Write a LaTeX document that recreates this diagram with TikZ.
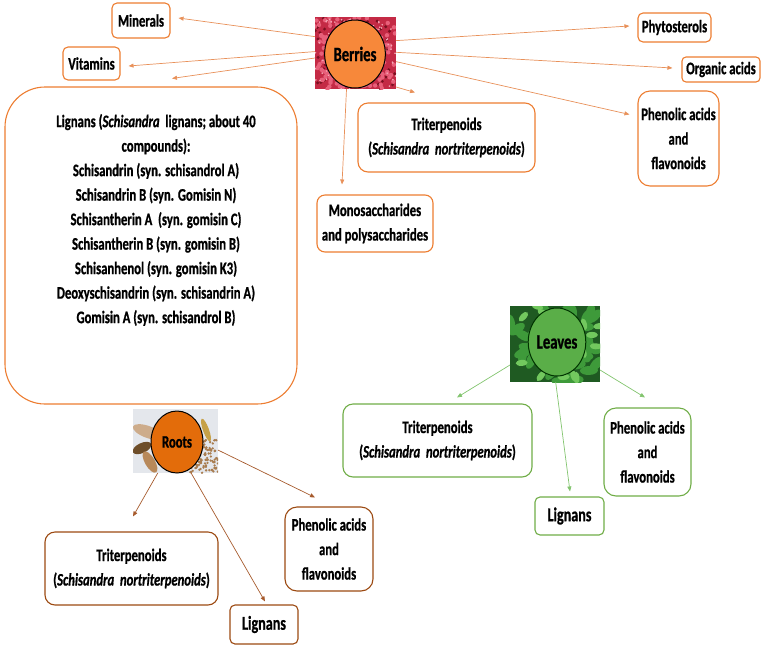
\documentclass[tikz,border=0pt]{standalone}
\usepackage{fontspec}
\setmainfont{Carlito}[FakeStretch=0.72, BoldFeatures={FakeBold=0.8}, BoldItalicFeatures={FakeBold=0.8}]
\usetikzlibrary{arrows.meta,calc,shapes.geometric}
\definecolor{bor}{HTML}{ED7D31}
\definecolor{borarr}{HTML}{E8915A}
\definecolor{rbr}{HTML}{9C4A12}
\definecolor{rarr}{HTML}{A65A2C}
\definecolor{lgr}{HTML}{70AD47}
\definecolor{larr}{HTML}{82C46E}
\definecolor{berfill}{HTML}{F7883A}
\definecolor{rootfill}{HTML}{E36C0A}
\definecolor{leaffill}{HTML}{5AAE48}
\definecolor{berbase}{HTML}{C42A45}
\definecolor{berlight}{HTML}{E8607A}
\definecolor{berhi}{HTML}{F5A8B6}
\definecolor{berdark}{HTML}{7A1020}
\definecolor{leafbase}{HTML}{1F5A22}
\definecolor{leafmid}{HTML}{3E9A3A}
\definecolor{leaflight}{HTML}{72C85E}
\definecolor{rootbase}{HTML}{E4E7EC}
\definecolor{roottan}{HTML}{B8895A}
\definecolor{rootdark}{HTML}{6E4E2A}
\begin{document}
\begin{tikzpicture}[x=1pt,y=-1pt,
  txt/.style={font=\fontsize{17.6}{24.5}\selectfont\bfseries, align=center, inner sep=0pt},
  box/.style={txt, draw, line width=1.1pt, fill=white},
  bbox/.style={box, draw=bor},
  rbox/.style={box, draw=rbr},
  lbox/.style={box, draw=lgr},
  big/.style={font=\fontsize{19.6}{24.5}\selectfont\bfseries},
  hub/.style={ellipse, draw=black, line width=1pt, inner sep=0pt, font=\fontsize{20.4}{22}\selectfont\bfseries},
  img/.style={inner sep=0pt, outer sep=0pt},
  arrB/.style={draw=borarr, line width=0.7pt, -{Triangle[length=5pt,width=4pt]}},
  arrR/.style={draw=rarr, line width=0.7pt, -{Triangle[length=5pt,width=4pt]}},
  arrL/.style={draw=larr, line width=0.7pt, -{Triangle[length=5pt,width=4pt]}}
]
\useasboundingbox (0,0) rectangle (764,649);
\pgfmathsetseed{7}

% ---------------- Berries image ----------------
\node[img, fill=berbase, minimum width=81pt, minimum height=72pt] (berImg) at (355.5,53) {};
\begin{scope}
  \clip (315,17) rectangle (396,89);
  \foreach \i in {1,...,70}{
    \pgfmathsetmacro\xx{315+81*rnd}\pgfmathsetmacro\yy{17+72*rnd}
    \fill[berdark] (\xx,\yy) circle (1.6pt);}
  \foreach \i in {1,...,150}{
    \pgfmathsetmacro\xx{315+81*rnd}\pgfmathsetmacro\yy{17+72*rnd}
    \fill[berlight] (\xx,\yy) circle (2.2pt);}
  \foreach \i in {1,...,90}{
    \pgfmathsetmacro\xx{315+81*rnd}\pgfmathsetmacro\yy{17+72*rnd}
    \fill[berhi] (\xx,\yy) circle (0.9pt);}
\end{scope}
\node[hub, fill=berfill, minimum width=54pt, minimum height=68pt] (berC) at (355,54) {Berries};

% ---------------- Leaves image ----------------
\node[img, fill=leafbase, minimum width=90pt, minimum height=76pt] (leafImg) at (555,344) {};
\begin{scope}
  \clip (510,306) rectangle (600,382);
  \foreach \i in {1,...,45}{
    \pgfmathsetmacro\xx{510+90*rnd}\pgfmathsetmacro\yy{306+76*rnd}\pgfmathsetmacro\aa{180*rnd}
    \fill[leafmid, rotate around={\aa:(\xx,\yy)}] (\xx,\yy) ellipse (9pt and 4.5pt);}
  \foreach \i in {1,...,25}{
    \pgfmathsetmacro\xx{510+90*rnd}\pgfmathsetmacro\yy{306+76*rnd}\pgfmathsetmacro\aa{180*rnd}
    \fill[leaflight, rotate around={\aa:(\xx,\yy)}] (\xx,\yy) ellipse (6pt and 3pt);}
\end{scope}
\node[hub, fill=leaffill, draw=black!80!green, minimum width=56pt, minimum height=68pt] (leafC) at (557,342) {Leaves};

% ---------------- Roots image ----------------
\node[img, fill=rootbase, minimum width=85pt, minimum height=64pt] (rootImg) at (175.5,441) {};
\begin{scope}
  \clip (133,409) rectangle (218,473);
  \fill[roottan!70!white, rotate around={-20:(148,432)}] (148,432) ellipse (16pt and 6pt);
  \fill[rootdark, rotate around={25:(142,448)}] (142,448) ellipse (10pt and 5pt);
  \fill[roottan, rotate around={-60:(150,462)}] (150,462) ellipse (12pt and 5pt);
  \fill[roottan!80!yellow, rotate around={-70:(206,430)}] (206,430) ellipse (12pt and 3pt);
  \foreach \i in {1,...,120}{
    \pgfmathsetmacro\xx{190+28*rnd}\pgfmathsetmacro\yy{440+33*rnd}
    \fill[roottan!80!rootdark] (\xx,\yy) circle (1.3pt);}
\end{scope}
\node[hub, fill=rootfill, minimum width=52pt, minimum height=62pt, font=\fontsize{17.5}{19}\selectfont\bfseries] (rootC) at (177,442) {Roots};

% ---------------- Berries boxes ----------------
\node[bbox, rounded corners=5pt, minimum width=58pt, minimum height=35pt] (min) at (141,20.5) {Minerals};
\node[bbox, rounded corners=5pt, minimum width=57pt, minimum height=33pt] (vit) at (91.5,63.5) {Vitamins};
\node[bbox, rounded corners=40pt, minimum width=292pt, minimum height=317pt] (lig) at (151,245.5) {};
\node[txt] (ligtext) at (156,220) {Lignans (\textit{Schisandra}\ \ lignans; about 40\\compounds):\\Schisandrin (syn. schisandrol A)\\Schisandrin B (syn. Gomisin N)\\Schisantherin A\ \ (syn. gomisin C)\\Schisantherin B (syn. gomisin B)\\Schisanhenol (syn. gomisin K3)\\Deoxyschisandrin (syn. schisandrin A)\\Gomisin A (syn. schisandrol B)};
\node[bbox, rounded corners=5pt, minimum width=73pt, minimum height=29pt] (phyto) at (674.5,27.5) {Phytosterols};
\node[bbox, rounded corners=4pt, minimum width=78pt, minimum height=25pt] (org) at (721,69.5) {Organic acids};
\node[bbox, rounded corners=12pt, minimum width=81pt, minimum height=95pt] (phenB) at (678.5,138.5) {Phenolic acids\\and\\flavonoids};
\node[bbox, rounded corners=10pt, minimum width=177pt, minimum height=69pt] (triB) at (446.5,137.5) {Triterpenoids\\(\textit{Schisandra\ \ nortriterpenoids})};
\node[bbox, rounded corners=8pt, minimum width=116pt, minimum height=57pt] (mono) at (375,223.5) {Monosaccharides\\and polysaccharides};

% ---------------- Leaves boxes ----------------
\node[lbox, rounded corners=10pt, minimum width=189pt, minimum height=73pt] (triL) at (437.5,440.5) {Triterpenoids\\(\textit{Schisandra\ \ nortriterpenoids})};
\node[lbox, rounded corners=5pt, minimum width=69pt, minimum height=38pt, big] (ligL) at (569.5,516) {Lignans};
\node[lbox, rounded corners=12pt, minimum width=87pt, minimum height=88pt] (phenL) at (647.5,452) {Phenolic acids\\and\\flavonoids};

% ---------------- Roots boxes ----------------
\node[rbox, rounded corners=10pt, minimum width=173pt, minimum height=73pt] (triR) at (131.5,568.5) {Triterpenoids\\(\textit{Schisandra\ \ nortriterpenoids})};
\node[rbox, rounded corners=5pt, minimum width=68pt, minimum height=39pt, big] (ligR) at (264,624.5) {Lignans};
\node[rbox, rounded corners=12pt, minimum width=88pt, minimum height=84pt] (phenR) at (329,549) {Phenolic acids\\and\\flavonoids};

% ---------------- Berries arrows ----------------
\draw[arrB] (berImg.158) -- ([xshift=8pt,yshift=2.5pt]min.east);
\draw[arrB] (berImg.178.6) -- ([xshift=8pt,yshift=-2.5pt]vit.east);
\draw[arrB] (berImg.187) -- ([xshift=21pt,yshift=8pt]lig.north);
\draw[arrB] (berImg.17.8) -- ([xshift=-8pt,yshift=1.5pt]phyto.west);
\draw[arrB] (berImg.1.4) -- ([xshift=-9pt,yshift=1.5pt]org.west);
\draw[arrB] (berImg.-12.5) -- ([xshift=-8pt,yshift=-24pt]phenB.north west);
\draw[arrB] (berImg.-40) -- ([xshift=-31.5pt,yshift=10pt]triB.north);
\draw[arrB] (berImg.256.7) -- ([xshift=-33pt,yshift=10pt]mono.north);

% ---------------- Leaves arrows ----------------
\draw[arrL] (leafImg.205) -- ([xshift=19.5pt,yshift=6pt]triL.north);
\draw[arrL] (leafImg.271.5) -- ([xshift=0.5pt,yshift=5pt]ligL.north);
\draw[arrL] (leafImg.330) -- ([xshift=-2.5pt,yshift=10pt]phenL.north);

% ---------------- Roots arrows ----------------
\draw[arrR] (rootImg.241) -- ([xshift=1.5pt,yshift=15pt]triR.north);
\draw[arrR] (rootImg.296) -- ([xshift=1pt,yshift=3pt]ligR.north);
\draw[arrR] (rootImg.348) -- ([xshift=-14pt,yshift=9pt]phenR.north);
\end{tikzpicture}
\end{document}
